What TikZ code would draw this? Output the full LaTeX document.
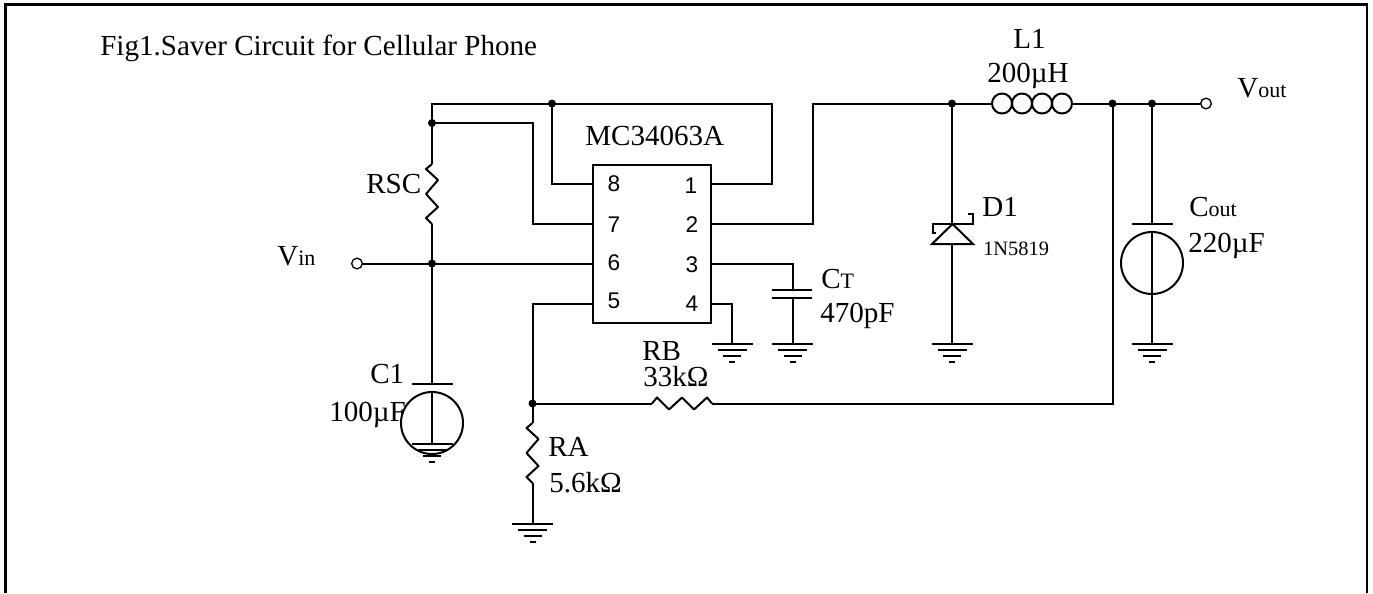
\documentclass[tikz,border=0pt]{standalone}
\usepackage{fontspec}
\setmainfont{Liberation Serif}
\newfontfamily\pinfont{Liberation Sans}
\newcommand{\bigtxt}{\fontsize{21.8}{24}\selectfont}
\newcommand{\lil}{\fontsize{16.5}{18}\selectfont}
\tikzset{
  wire/.style={line width=1.5pt,line join=miter,line cap=butt},
  lbl/.style={inner sep=0pt,anchor=base west,font=\bigtxt},
  pinlbl/.style={inner sep=0pt,font=\pinfont\fontsize{17}{18}\selectfont},
  dot/.style={circle,fill=black,draw=none,minimum size=6pt,inner sep=0pt},
  term/.style={circle,draw=black,fill=white,line width=1pt,minimum size=8pt,inner sep=0pt},
  earth/.pic={
    \draw[wire] (-20.5,0) -- (20.5,0);
    \draw[wire] (-14.5,6) -- (14.5,6);
    \draw[wire] (-9,12) -- (9,12);
    \draw[wire] (-3,18) -- (3,18);
  },
  zig/.pic={
    \draw[wire,line join=round] (0,0) -- (-6,5) -- (6,16) -- (-6,30) -- (6,43) -- (-6,54) -- (0,60);
  },
  zigh/.pic={
    \draw[wire,line join=round] (0,0) -- (5,-6) -- (17,6) -- (30,-6) -- (42,6) -- (55,-6) -- (60,0);
  },
}
\begin{document}
\begin{tikzpicture}[x=0.75pt,y=-0.75pt]
\useasboundingbox (0,0) rectangle (1373,593);
% frame
\draw[line width=2pt,line cap=butt] (5.5,593) -- (5.5,4.5) -- (1367,4.5) -- (1367,593);
% IC
\node[draw=black,line width=1.5pt,minimum width=88.5pt,minimum height=118.5pt,inner sep=0pt,anchor=north west] (ic) at (592,164) {};
\foreach \n/\y in {8/184,7/224,6/264,5/304}{\coordinate (p\n) at (592,\y);}
\foreach \n/\y in {1/184,2/224,3/264,4/304}{\coordinate (p\n) at (711,\y);}
\node[pinlbl] (t8) at (614,184) {8};
\node[pinlbl] (t7) at (614,225) {7};
\node[pinlbl] (t6) at (614,263) {6};
\node[pinlbl] (t5) at (614,301) {5};
\node[pinlbl] (t1) at (691,186) {1};
\node[pinlbl] (t2) at (692,225) {2};
\node[pinlbl] (t3) at (692,265) {3};
\node[pinlbl] (t4) at (692,304) {4};
% named points
\node[dot] (jtop) at (552,103.5) {};
\node[dot] (jrs) at (432,123) {};
\node[dot] (jin) at (432,263.5) {};
\node[dot] (jfb) at (532.5,403.5) {};
\node[dot] (jd) at (952,103.5) {};
\node[dot] (jo1) at (1112.5,103.5) {};
\node[dot] (jo2) at (1152,103.5) {};
\coordinate (tl) at (432,103.5);
\coordinate (tr) at (772,103.5);
\coordinate (rsct) at (432,164);
\coordinate (rscb) at (432,224);
\coordinate (c1t) at (432,384);
\coordinate (c1m) at (432,392);
\coordinate (g1) at (432,444);
\coordinate (rat) at (532.5,423);
\coordinate (rab) at (532.5,483);
\coordinate (g2) at (532.5,524);
\coordinate (rbl) at (652,403.5);
\coordinate (rbr) at (712,403.5);
\coordinate (lfbr) at (1112.5,403.5);
\coordinate (g3) at (732,344);
\coordinate (g4) at (792.5,344);
\coordinate (g5) at (952,344);
\coordinate (g6) at (1152,344);
\coordinate (ctt) at (792.5,290);
\coordinate (ctb) at (792.5,298);
\coordinate (dk) at (952,224);
\coordinate (da) at (952,244);
\coordinate (cot) at (1152,224);
\coordinate (com) at (1152,232);
\coordinate (lin) at (992,103.5);
\coordinate (lout) at (1072,103.5);
\node[term] (vin) at (357,263.5) {};
\node[term] (vout) at (1206,103.5) {};
% wires
\draw[wire] (rsct) -- (jrs.center) -- (tl) -- (tr) |- (p1);
\draw[wire] (jtop.center) |- (p8);
\draw[wire] (jrs.center) -| (533,224) -- (p7);
\draw[wire] (vin) -- (p6 |- vin);
\draw[wire] (rscb) -- (jin.center) -- (c1t);
\draw[wire] (c1m) -- (g1);
\draw[wire] (p5) -| (jfb.center) -- (rat);
\draw[wire] (rab) -- (g2);
\draw[wire] (jfb.center) -- (rbl);
\draw[wire] (rbr) -- (lfbr) -- (jo1.center);
\draw[wire] (p4) -| (g3);
\draw[wire] (p3) -| (ctt);
\draw[wire] (ctb) -- (g4);
\draw[wire] (p2) -| (813,103.5) -- (lin);
\draw[wire] (jd.center) -- (dk);
\draw[wire] (da) -- (g5);
\draw[wire] (lout) -- (vout);
\draw[wire] (jo2.center) -- (cot);
\draw[wire] (com) -- (g6);
% components
\pic at (rsct) {zig};
\pic at (rat) {zig};
\pic at (rbl) {zigh};
\foreach \x in {1002,1022,1042,1062}{\draw[wire] (\x,103.5) circle[radius=10];}
\draw[wire] (412,384) -- (453,384);
\draw[line width=1.5pt] (432,423) circle[radius=31];
\draw[wire] (772,290) -- (812,290);
\draw[wire] (772,298) -- (812,298);
\draw[wire] (936,233) -- (932.5,233) -- (932.5,224) -- (973,224) -- (973,214) -- (968,214);
\draw[wire] (932,244) -- (973,244) -- (952.5,224) -- cycle;
\draw[wire] (1132,224) -- (1173,224);
\draw[line width=1.5pt] (1152,263) circle[radius=31];
\pic at (g1) {earth};
\pic at (g2) {earth};
\pic at (g3) {earth};
\pic at (g4) {earth};
\pic at (g5) {earth};
\pic at (g6) {earth};
% labels
\node[lbl] (title) at (100,55) {Fig1.Saver Circuit for Cellular Phone};
\node[lbl] (icname) at (585,145) {MC34063A};
\node[lbl] (rsc) at (366,193) {RSC};
\node[lbl] (lvin) at (277,265) {V{\lil in}};
\node[lbl] (c1) at (370,383) {C1};
\node[lbl] (c1v) at (329,421) {100µF};
\node[lbl] (ra) at (548,456) {RA};
\node[lbl] (rav) at (549,492) {5.6kΩ};
\node[lbl] (rb) at (642,360) {RB};
\node[lbl] (rbv) at (643,386) {33kΩ};
\node[lbl] (ct) at (821,288) {C{\lil T}};
\node[lbl] (ctv) at (820,322) {470pF};
\node[lbl] (l1) at (1013,48) {L1};
\node[lbl] (l1v) at (987,82) {200µH};
\node[lbl] (d1) at (982,216) {D1};
\node[lbl,font=\fontsize{15.3}{18}\selectfont] (d1v) at (983,255) {1N5819};
\node[lbl] (co) at (1189,216) {C{\lil out}};
\node[lbl] (cov) at (1188,252) {220µF};
\node[lbl] (lvout) at (1237,97) {V{\lil out}};
\end{tikzpicture}
\end{document}
